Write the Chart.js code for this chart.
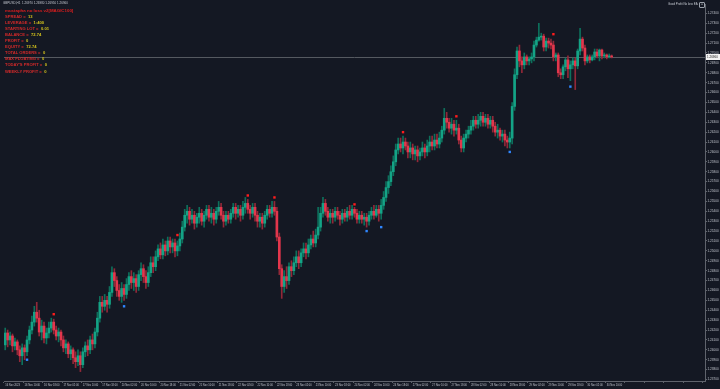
<!DOCTYPE html>
<html><head><meta charset="utf-8">
<script src="https://cdn.jsdelivr.net/npm/chart.js@4.4.0/dist/chart.umd.min.js"></script>
<style>
html,body{margin:0;padding:0;background:#141823;}
#wrap{position:relative;width:720px;height:389px;overflow:hidden;background:#141823;}
canvas{position:absolute;left:0;top:0;}
.t{position:absolute;font-family:"Liberation Sans",Arial,sans-serif;white-space:nowrap;line-height:1;}
#panel .row{position:absolute;left:5px;font-size:4.1px;font-weight:bold;color:#d42a2a;font-family:"Liberation Sans",Arial,sans-serif;white-space:nowrap;line-height:1;}
#panel .row span{color:#d6c41c;margin-left:2.5px;}
</style></head><body>
<div id="wrap">
<canvas id="c" width="720" height="389"></canvas>
<div class="t" id="title" style="left:3px;top:2.4px;font-size:3px;color:#c3c7cf;"></div>
<div class="t" style="left:5px;top:8.8px;font-size:4.4px;font-weight:bold;color:#e01e1e;">mustapha no loss v2[MAGIC100]</div>
<div id="panel"></div>
<div class="t" style="left:668px;top:2.6px;font-size:2.9px;color:#c8ccd4;">Good Profit No loss EA</div>
<div class="t" style="left:699px;top:1.5px;width:4px;height:4px;border:0.5px solid #9aa0aa;border-radius:1px;font-size:3px;color:#c8ccd4;text-align:center;">☺</div>
</div>
<script>
const opens=[
1.2405,1.2417,1.2410,1.2414,1.2404,1.2408,1.2400,1.2394,1.2402,1.2398,
1.2410,1.2420,1.2428,1.2438,1.2432,1.2418,1.2424,1.2412,1.2417,1.2422,
1.2428,1.2420,1.2414,1.2418,1.2410,1.2402,1.2406,1.2396,1.2400,1.2392,
1.2388,1.2394,1.2385,1.2398,1.2404,1.2400,1.2410,1.2406,1.2418,1.2432,
1.2448,1.2444,1.2450,1.2446,1.2458,1.2478,1.2470,1.2460,1.2454,1.2462,
1.2456,1.2466,1.2474,1.2468,1.2472,1.2464,1.2476,1.2482,1.2474,1.2468,
1.2478,1.2488,1.2484,1.2494,1.2502,1.2496,1.2506,1.2500,1.2510,1.2504,
1.2508,1.2500,1.2505,1.2512,1.2524,1.2536,1.2540,1.2532,1.2536,1.2528,
1.2534,1.2538,1.2530,1.2536,1.2542,1.2534,1.2538,1.2532,1.2540,1.2544,
1.2536,1.2530,1.2536,1.2532,1.2538,1.2544,1.2538,1.2542,1.2536,1.2544,
1.2548,1.2542,1.2538,1.2544,1.2536,1.2530,1.2534,1.2528,1.2536,1.2542,
1.2538,1.2544,1.2540,1.2514,1.2482,1.2464,1.2474,1.2470,1.2484,1.2480,
1.2488,1.2494,1.2488,1.2498,1.2502,1.2498,1.2506,1.2512,1.2508,1.2516,
1.2524,1.2538,1.2548,1.2540,1.2534,1.2538,1.2534,1.2540,1.2536,1.2532,
1.2538,1.2534,1.2540,1.2536,1.2542,1.2538,1.2532,1.2536,1.2532,1.2534,
1.2530,1.2536,1.2540,1.2536,1.2542,1.2538,1.2546,1.2554,1.2564,1.2570,
1.2580,1.2590,1.2602,1.2608,1.2604,1.2610,1.2606,1.2600,1.2604,1.2598,
1.2602,1.2596,1.2600,1.2604,1.2600,1.2606,1.2610,1.2606,1.2612,1.2608,
1.2614,1.2622,1.2634,1.2630,1.2624,1.2628,1.2622,1.2624,1.2612,1.2604,
1.2614,1.2618,1.2622,1.2626,1.2632,1.2628,1.2632,1.2636,1.2630,1.2634,
1.2628,1.2632,1.2626,1.2620,1.2622,1.2616,1.2618,1.2612,1.2610,1.2614,
1.2646,1.2678,1.2702,1.2692,1.2688,1.2696,1.2692,1.2694,1.2696,1.2708,
1.2713,1.2716,1.2717,1.2706,1.2712,1.2710,1.2708,1.2696,1.2698,1.2680,
1.2678,1.2686,1.2693,1.2684,1.2688,1.2692,1.2687,1.2702,1.2714,1.2705,
1.2692,1.2696,1.2693,1.2696,1.2701,1.2697,1.2703,1.2697,1.2698,1.2696,
1.2697];
const highs=[
1.2422,1.2420,1.2418,1.2416,1.2412,1.2410,1.2404,1.2406,1.2405,1.2414,
1.2424,1.2434,1.2444,1.2448,1.2440,1.2430,1.2428,1.2422,1.2428,1.2432,
1.2431,1.2424,1.2422,1.2420,1.2414,1.2410,1.2408,1.2404,1.2402,1.2398,
1.2400,1.2398,1.2402,1.2408,1.2410,1.2414,1.2416,1.2422,1.2438,1.2454,
1.2454,1.2456,1.2454,1.2464,1.2484,1.2482,1.2474,1.2466,1.2468,1.2466,
1.2472,1.2478,1.2480,1.2478,1.2476,1.2480,1.2488,1.2486,1.2480,1.2484,
1.2494,1.2494,1.2500,1.2506,1.2508,1.2512,1.2510,1.2514,1.2514,1.2512,
1.2512,1.2510,1.2518,1.2530,1.2542,1.2546,1.2544,1.2542,1.2540,1.2538,
1.2544,1.2542,1.2540,1.2546,1.2546,1.2544,1.2542,1.2544,1.2550,1.2548,
1.2540,1.2540,1.2540,1.2542,1.2548,1.2548,1.2546,1.2546,1.2550,1.2554,
1.2552,1.2546,1.2548,1.2548,1.2540,1.2538,1.2538,1.2540,1.2546,1.2546,
1.2550,1.2550,1.2544,1.2518,1.2486,1.2480,1.2484,1.2488,1.2490,1.2494,
1.2500,1.2500,1.2502,1.2508,1.2508,1.2512,1.2516,1.2520,1.2522,1.2544,
1.2544,1.2554,1.2552,1.2544,1.2542,1.2542,1.2544,1.2544,1.2540,1.2542,
1.2542,1.2544,1.2546,1.2546,1.2544,1.2542,1.2540,1.2540,1.2538,1.2538,
1.2540,1.2544,1.2546,1.2546,1.2546,1.2552,1.2560,1.2570,1.2576,1.2586,
1.2596,1.2608,1.2614,1.2614,1.2616,1.2614,1.2610,1.2610,1.2608,1.2606,
1.2606,1.2604,1.2610,1.2608,1.2612,1.2616,1.2616,1.2618,1.2618,1.2620,
1.2626,1.2644,1.2640,1.2634,1.2634,1.2632,1.2632,1.2628,1.2616,1.2618,
1.2622,1.2626,1.2632,1.2636,1.2636,1.2638,1.2640,1.2640,1.2638,1.2638,
1.2636,1.2636,1.2630,1.2628,1.2624,1.2622,1.2622,1.2616,1.2620,1.2650,
1.2684,1.2706,1.2708,1.2696,1.2700,1.2698,1.2696,1.2700,1.2712,1.2716,
1.2730,1.2720,1.2719,1.2715,1.2715,1.2714,1.2712,1.2700,1.2700,1.2684,
1.2688,1.2695,1.2697,1.2692,1.2695,1.2695,1.2704,1.2725,1.2716,1.2708,
1.2698,1.2698,1.2698,1.2704,1.2704,1.2704,1.2704,1.2700,1.2699,1.2699,
1.2698];
const lows=[
1.2400,1.2403,1.2405,1.2398,1.2400,1.2395,1.2388,1.2385,1.2390,1.2394,
1.2406,1.2416,1.2424,1.2428,1.2414,1.2410,1.2407,1.2406,1.2412,1.2418,
1.2416,1.2410,1.2408,1.2404,1.2398,1.2396,1.2392,1.2390,1.2386,1.2382,
1.2384,1.2378,1.2382,1.2393,1.2394,1.2396,1.2400,1.2402,1.2414,1.2428,
1.2438,1.2440,1.2438,1.2442,1.2454,1.2464,1.2454,1.2450,1.2448,1.2450,
1.2452,1.2460,1.2462,1.2460,1.2458,1.2460,1.2470,1.2468,1.2462,1.2464,
1.2474,1.2478,1.2480,1.2490,1.2492,1.2492,1.2495,1.2496,1.2498,1.2498,
1.2494,1.2495,1.2500,1.2508,1.2520,1.2528,1.2526,1.2528,1.2522,1.2524,
1.2528,1.2526,1.2524,1.2532,1.2530,1.2528,1.2526,1.2528,1.2536,1.2532,
1.2524,1.2526,1.2528,1.2528,1.2534,1.2532,1.2534,1.2530,1.2532,1.2538,
1.2538,1.2532,1.2534,1.2530,1.2524,1.2524,1.2522,1.2524,1.2532,1.2534,
1.2534,1.2536,1.2510,1.2476,1.2452,1.2458,1.2462,1.2466,1.2474,1.2476,
1.2484,1.2482,1.2484,1.2494,1.2492,1.2494,1.2502,1.2504,1.2504,1.2512,
1.2520,1.2534,1.2536,1.2530,1.2528,1.2528,1.2530,1.2532,1.2526,1.2528,
1.2530,1.2530,1.2532,1.2532,1.2534,1.2528,1.2528,1.2528,1.2526,1.2524,
1.2526,1.2532,1.2532,1.2534,1.2530,1.2532,1.2542,1.2550,1.2558,1.2566,
1.2576,1.2586,1.2598,1.2600,1.2598,1.2602,1.2594,1.2594,1.2592,1.2592,
1.2590,1.2592,1.2596,1.2594,1.2596,1.2600,1.2602,1.2602,1.2604,1.2604,
1.2610,1.2618,1.2624,1.2620,1.2618,1.2616,1.2618,1.2608,1.2600,1.2600,
1.2610,1.2614,1.2618,1.2622,1.2624,1.2624,1.2626,1.2626,1.2626,1.2624,
1.2624,1.2620,1.2616,1.2614,1.2612,1.2610,1.2606,1.2604,1.2604,1.2608,
1.2642,1.2674,1.2686,1.2680,1.2684,1.2688,1.2688,1.2690,1.2692,1.2706,
1.2712,1.2713,1.2702,1.2702,1.2705,1.2704,1.2692,1.2692,1.2676,1.2674,
1.2674,1.2682,1.2675,1.2672,1.2684,1.2663,1.2684,1.2698,1.2702,1.2688,
1.2690,1.2690,1.2692,1.2693,1.2695,1.2692,1.2694,1.2695,1.2694,1.2695,
1.2695];
const closes=[
1.2417,1.2410,1.2414,1.2404,1.2408,1.2400,1.2394,1.2402,1.2398,1.2410,
1.2420,1.2428,1.2438,1.2432,1.2418,1.2424,1.2412,1.2417,1.2422,1.2428,
1.2420,1.2414,1.2418,1.2410,1.2402,1.2406,1.2396,1.2400,1.2392,1.2388,
1.2394,1.2385,1.2398,1.2404,1.2400,1.2410,1.2406,1.2418,1.2432,1.2448,
1.2444,1.2450,1.2446,1.2458,1.2478,1.2470,1.2460,1.2454,1.2462,1.2456,
1.2466,1.2474,1.2468,1.2472,1.2464,1.2476,1.2482,1.2474,1.2468,1.2478,
1.2488,1.2484,1.2494,1.2502,1.2496,1.2506,1.2500,1.2510,1.2504,1.2508,
1.2500,1.2505,1.2512,1.2524,1.2536,1.2540,1.2532,1.2536,1.2528,1.2534,
1.2538,1.2530,1.2536,1.2542,1.2534,1.2538,1.2532,1.2540,1.2544,1.2536,
1.2530,1.2536,1.2532,1.2538,1.2544,1.2538,1.2542,1.2536,1.2544,1.2548,
1.2542,1.2538,1.2544,1.2536,1.2530,1.2534,1.2528,1.2536,1.2542,1.2538,
1.2544,1.2540,1.2514,1.2482,1.2464,1.2474,1.2470,1.2484,1.2480,1.2488,
1.2494,1.2488,1.2498,1.2502,1.2498,1.2506,1.2512,1.2508,1.2516,1.2524,
1.2538,1.2548,1.2540,1.2534,1.2538,1.2534,1.2540,1.2536,1.2532,1.2538,
1.2534,1.2540,1.2536,1.2542,1.2538,1.2532,1.2536,1.2532,1.2534,1.2530,
1.2536,1.2540,1.2536,1.2542,1.2538,1.2546,1.2554,1.2564,1.2570,1.2580,
1.2590,1.2602,1.2608,1.2604,1.2610,1.2606,1.2600,1.2604,1.2598,1.2602,
1.2596,1.2600,1.2604,1.2600,1.2606,1.2610,1.2606,1.2612,1.2608,1.2614,
1.2622,1.2634,1.2630,1.2624,1.2628,1.2622,1.2624,1.2612,1.2604,1.2614,
1.2618,1.2622,1.2626,1.2632,1.2628,1.2632,1.2636,1.2630,1.2634,1.2628,
1.2632,1.2626,1.2620,1.2622,1.2616,1.2618,1.2612,1.2610,1.2614,1.2646,
1.2678,1.2702,1.2692,1.2688,1.2696,1.2692,1.2694,1.2696,1.2708,1.2713,
1.2716,1.2717,1.2706,1.2712,1.2710,1.2708,1.2696,1.2698,1.2680,1.2678,
1.2686,1.2693,1.2684,1.2688,1.2692,1.2687,1.2702,1.2714,1.2705,1.2692,
1.2696,1.2693,1.2696,1.2701,1.2697,1.2703,1.2697,1.2698,1.2696,1.2697,
1.2696];
const tickLabels=["16 Nov 2023","16 Nov 10:00","16 Nov 18:00","17 Nov 02:00","17 Nov 10:00","17 Nov 18:00",
"20 Nov 02:00","20 Nov 10:00","20 Nov 18:00","21 Nov 02:00","21 Nov 10:00","21 Nov 18:00",
"22 Nov 02:00","22 Nov 10:00","22 Nov 18:00","23 Nov 02:00","23 Nov 10:00","23 Nov 18:00",
"24 Nov 02:00","24 Nov 10:00","24 Nov 18:00","27 Nov 02:00","27 Nov 10:00","27 Nov 18:00",
"28 Nov 02:00","28 Nov 10:00","28 Nov 18:00","29 Nov 02:00","29 Nov 10:00","29 Nov 18:00",
"30 Nov 02:00","30 Nov 10:00"];
const sellMarks=[[20,1.2436],[71,1.2516],[100,1.2556],[111,1.2554],[144,1.2547],[164,1.2620],[186,1.2636],[226,1.2719]];
const buyMarks=[[9,1.2390],[49,1.2444],[149,1.2520],[155,1.2524],[208,1.2600],[233,1.2666]];
const panelLabels=["SPREAD =","LEVERAGE =","STARTING LOT =","BALANCE =","PROFIT =","EQUITY =","TOTAL ORDERS =","MAX FLOATING =","TODAY'S PROFIT =","WEEKLY PROFIT ="];
const panelValues=["13","1:400","0.01","72.74","0","72.74","0","0","0","0"];
const symbolName="GBPUSD,H1";
const totalSlots=289;

const last=closes.length-1;
document.getElementById('title').textContent=symbolName+"\u00a0 "+[opens[last],highs[last],lows[last],closes[last]].map(v=>v.toFixed(5)).join(" ");
const panel=document.getElementById('panel');
panelLabels.forEach((l,i)=>{const d=document.createElement('div');d.className='row';d.style.top=(14.6+i*6.1)+'px';d.textContent=l;const s=document.createElement('span');s.textContent=panelValues[i];d.appendChild(s);panel.appendChild(d);});

const GREEN='#14a386',RED='#e3364c',GREEN_W='#0d705c',RED_W='#922838',AX='#5f636c',TXT='#bfc3cb';
const up=i=>closes[i]>=opens[i];
const slots=Array.from({length:totalSlots},(_,i)=>i);
const FONT='"Liberation Sans",Arial,sans-serif';

const bidPlugin={id:'bid',
 beforeDatasetsDraw(chart){const {ctx,chartArea:a,scales:{y}}=chart;const py=Math.round(y.getPixelForValue(closes[last]))+0.5;
  ctx.save();ctx.strokeStyle='#555960';ctx.lineWidth=1;ctx.beginPath();ctx.moveTo(a.left,py);ctx.lineTo(a.right,py);ctx.stroke();ctx.restore();},
 afterDraw(chart){const {ctx,chartArea:a,scales:{y}}=chart;const py=Math.round(y.getPixelForValue(closes[last]));
  ctx.save();ctx.fillStyle='#f2f2f2';ctx.fillRect(a.right+1,py-3,720-a.right-1,6);
  ctx.fillStyle='#1a1a1a';ctx.font='3px '+FONT;ctx.textBaseline='middle';ctx.fillText(closes[last].toFixed(5),a.right+2,py+0.3);ctx.restore();}
};

new Chart(document.getElementById('c'),{
 type:'bar',
 data:{labels:slots,datasets:[
  {label:'wick',data:lows.map((l,i)=>[l,highs[i]]),backgroundColor:c=>up(c.dataIndex)?GREEN_W:RED_W,barThickness:1,grouped:false,order:3},
  {label:'body',data:opens.map((o,i)=>[Math.min(o,closes[i]),Math.max(o,closes[i])]),backgroundColor:c=>up(c.dataIndex)?GREEN:RED,barThickness:2,minBarLength:1,grouped:false,order:2},
  {type:'line',label:'sell',data:sellMarks.map(m=>({x:m[0],y:m[1]})),showLine:false,pointStyle:'rect',pointRadius:1.7,pointBackgroundColor:'#ff1c1c',pointBorderWidth:0,order:1},
  {type:'line',label:'buy',data:buyMarks.map(m=>({x:m[0],y:m[1]})),showLine:false,pointStyle:'rect',pointRadius:1.7,pointBackgroundColor:'#2f86ff',pointBorderWidth:0,order:1}
 ]},
 options:{responsive:false,animation:false,devicePixelRatio:1,
  layout:{padding:0},
  plugins:{legend:{display:false},tooltip:{enabled:false}},
  scales:{
   x:{offset:true,
    grid:{display:true,drawOnChartArea:false,drawTicks:true,tickLength:2,color:c=>(c.index%8===0)?AX:'transparent'},
    border:{display:true,color:AX},
    ticks:{autoSkip:false,maxRotation:0,minRotation:0,align:'start',padding:0.5,color:TXT,font:{size:2.6,family:FONT},
     callback:(v,i)=>(i%8===0&&i/8<tickLabels.length)?tickLabels[i/8]:''},
    afterFit:s=>{s.height=8;}},
   y:{position:'right',min:1.23685,max:1.27495,
    grid:{display:true,drawOnChartArea:false,tickLength:2,color:AX},
    border:{display:true,color:AX},
    ticks:{stepSize:0.001,includeBounds:false,padding:0.5,color:TXT,font:{size:3.1,family:FONT},callback:v=>v.toFixed(5)},
    afterFit:s=>{s.width=15;}}
  }
 },
 plugins:[bidPlugin]
});
</script>
</body></html>
